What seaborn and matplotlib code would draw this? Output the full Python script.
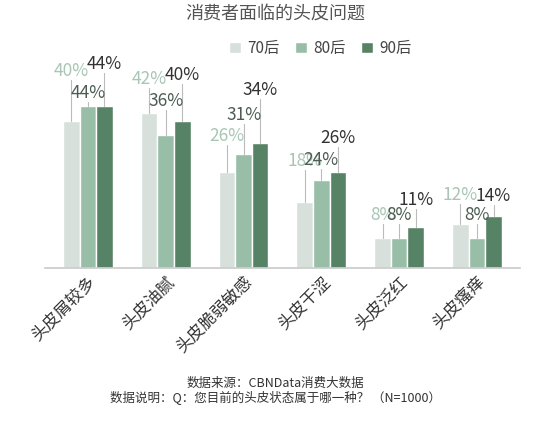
import matplotlib
matplotlib.use("Agg")
import matplotlib.pyplot as plt
import seaborn as sns
import pandas as pd

categories = ["头皮屑较多", "头皮油腻", "头皮脆弱敏感", "头皮干涩", "头皮泛红", "头皮瘙痒"]
series = ["70后", "80后", "90后"]
v70 = [40, 42, 26, 18, 8, 12]
v80 = [44, 36, 31, 24, 8, 8]
v90 = [44, 40, 34, 26, 11, 14]

bar_colors = ["#d5e2db", "#93c4a6", "#4f8a64"]
label_colors = ["#a8c6b4", "#4d5d53", "#333333"]
# label lift above each bar (in % units), per series, to stagger like the original
label_lift = [
    [11, 7, 7.5, 8.5, 4, 5.5],
    [1, 7, 8, 3, 4, 4],
    [9, 10, 12, 7, 5, 3],
]

rows = []
for s, vals in zip(series, [v70, v80, v90]):
    for c, v in zip(categories, vals):
        rows.append({"cat": c, "series": s, "val": v})
df = pd.DataFrame(rows)

sns.set_theme(style="white")
plt.rcParams["font.family"] = ["Noto Sans CJK SC", "DejaVu Sans"]

fig = plt.figure(figsize=(5.5, 4.28), dpi=100)
ax = fig.add_axes([0.082, 0.374, 0.863, 0.533])
sns.barplot(data=df, x="cat", y="val", hue="series", palette=bar_colors,
            width=0.64, ax=ax, legend=True)

for i, cont in enumerate(ax.containers):
    for j, (p, v) in enumerate(zip(cont.patches, [v70, v80, v90][i])):
        x = p.get_x() + p.get_width() / 2
        y_lab = v + label_lift[i][j]
        ax.plot([x, x], [v, y_lab], color="#bbbbbb", lw=0.8, zorder=1)
        ax.text(x, y_lab, f"{v}%", ha="center", va="bottom",
                fontsize=12.5, color=label_colors[i])

ax.set_ylim(0, 62)
ax.set_xlim(-0.55, 5.55)
ax.set_xlabel("")
ax.set_ylabel("")
ax.set_yticks([])
ax.tick_params(axis="x", length=0, pad=4)
for lab in ax.get_xticklabels():
    lab.set_rotation(45)
    lab.set_ha("right")
    lab.set_rotation_mode("anchor")
    lab.set_fontsize(12)
    lab.set_color("#333333")
for side in ["top", "right", "left"]:
    ax.spines[side].set_visible(False)
ax.spines["bottom"].set_color("#cccccc")

ax.legend(ncol=3, frameon=False, loc="upper center", bbox_to_anchor=(0.58, 1.06),
          fontsize=11, handlelength=0.8, handleheight=0.8, columnspacing=1.0,
          handletextpad=0.4, labelcolor="#444444")

fig.text(0.5, 0.965, "消费者面临的头皮问题", ha="center", va="center",
         fontsize=13, color="#555555")
fig.text(0.5, 0.105, "数据来源：CBNData消费大数据", ha="center", va="center",
         fontsize=9, color="#333333")
fig.text(0.5, 0.07, "数据说明：Q：您目前的头皮状态属于哪一种？ （N=1000）", ha="center",
         va="center", fontsize=9, color="#333333")

fig.savefig("out.png", dpi=100, facecolor="white")
